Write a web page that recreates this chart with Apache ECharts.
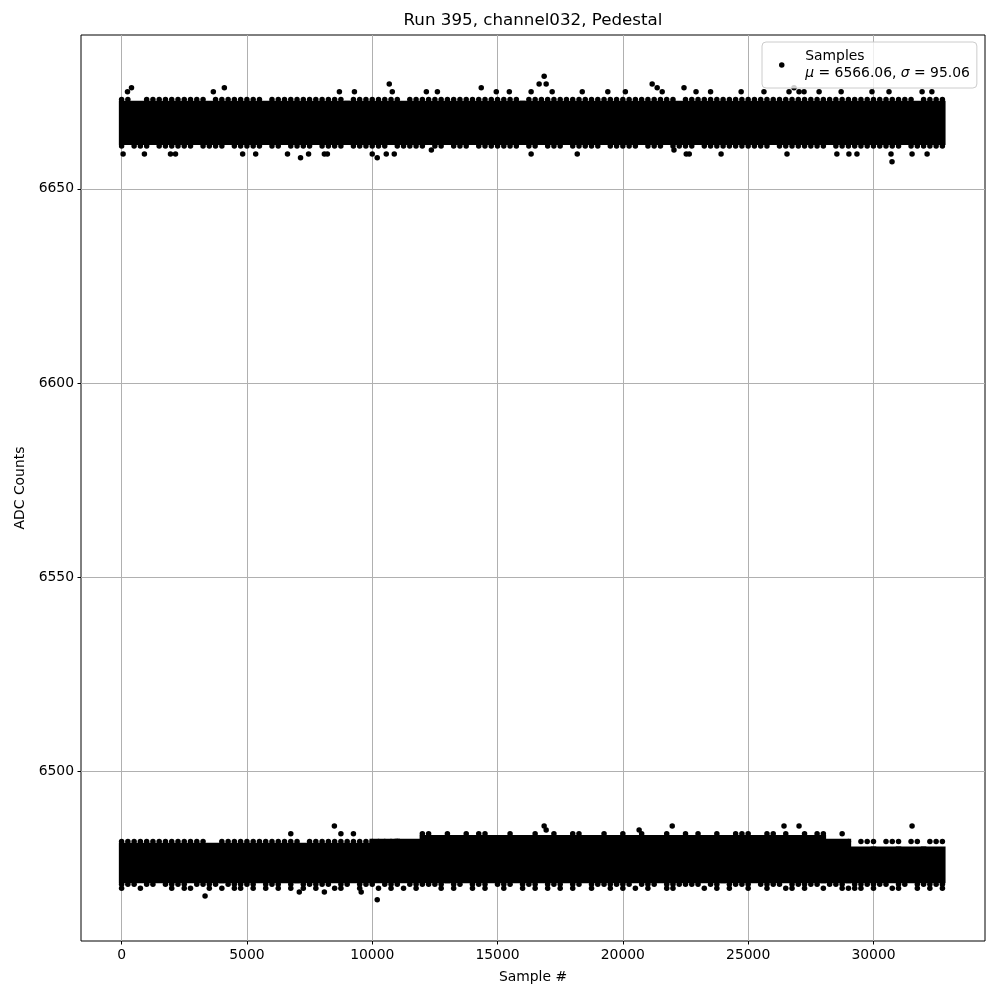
<!DOCTYPE html>
<html>
<head>
<meta charset="utf-8">
<script src="https://cdn.jsdelivr.net/npm/echarts@6/dist/echarts.min.js"></script>
<style>
html,body{margin:0;padding:0;background:#fff}
#chart{width:1000px;height:1000px}
</style>
</head>
<body>
<div id="chart"></div>
<script>
// ---------------- data ----------------
const titleText = 'Run 395, channel032, Pedestal';
const xAxisName = 'Sample #';
const yAxisName = 'ADC Counts';
const legendName = 'Samples';
const legendStats = { mu: '6566.06', sigma: '95.06' };
const xTicks = [0, 5000, 10000, 15000, 20000, 25000, 30000];
const yTicks = [6500, 6550, 6600, 6650];

// dense (solid) part of each band, per 1000-sample chunk
const chunkEdges = [0,1000,2000,3000,4000,5000,6000,7000,8000,9000,10000,11000,12000,13000,14000,15000,16000,
  17000,18000,19000,20000,21000,22000,23000,24000,25000,26000,27000,28000,29000,30000,31000,32000,32767];
const upperCoreLo = [6662,6662,6662,6662,6662,6662,6662,6662,6662,6662,6662,6662,6662,6662,6662,6662,6662,
  6662,6662,6662,6662,6662,6662,6662,6662,6662,6662,6662,6662,6662,6662,6662,6662];
const upperCoreHi = [6672,6672,6672,6672,6672,6672,6672,6672,6672,6672,6672,6672,6672,6672,6672,6672,6672,
  6672,6672,6672,6672,6672,6672,6672,6672,6672,6672,6672,6672,6672,6672,6672,6672];
const lowerCoreLo = [6472,6472,6472,6472,6472,6472,6472,6472,6472,6472,6472,6472,6472,6472,6472,6472,6472,
  6472,6472,6472,6472,6472,6472,6472,6472,6472,6472,6472,6472,6472,6472,6472,6472];
const lowerCoreHi = [6481,6481,6481,6481,6481,6481,6481,6481,6481,6481,6482,6482,6483,6483,6483,6483,6483,
  6483,6483,6483,6483,6483,6483,6483,6483,6483,6483,6483,6482,6480,6480,6480,6480];

// fringe rows: one character per 250 samples, '#' = a sample at that ADC value
const rowStep = 250;
const upperRow6673 = ['##..######','####.#####','###.######','######.###','#####.####','##########','####.#####',
  '##########','#########.','##########','##########','##########','#######.##','##'].join('');
const upperRow6661 = ['#.###.####','##.####.##','###.##.###','#.####.###','###.#####.','##.###.###','####.##.##',
  '#.#####.##','###.###.##','##.#######','####.#####','###.######','#####.####','##'].join('');
const lowerRow6484 = ['..........','..........','.......#..','.....#.#..','........##','..#..#.##.','..#...#..#',
  '..##...#..','#..#...#..','#.#..#..##','#..##.#..#','.##..#....','..........','..'].join('');
const lowerRow6482 = ['##########','####..####','#########.','##########','#####.....','..........','..........',
  '..........','..........','..........','..........','......#.##','#.###.##.#','##'].join('');
const lowerRow6471 = ['###.##.###','#.####.###','##.###.#.#','####.##.##','#.###.####','##.##.###.','###.###.##',
  '#.##.#####','##.###.###','###.##.###','#.####.###','##.###.###','###.##.###','##'].join('');
const lowerRow6470 = ['#..#....#.','##..#.#.##','.#.#.#.#.#','.#..##..#.','.#.#.#.#..','.#.#..#.#.','.#..#.#.#.',
  '#.#..#..#.','#.#.#..##.','...#.#.#..','#..#..##.#','..#..####.','#..##..#.#','.#'].join('');

// isolated samples [sample #, ADC counts]
const upperHigh = [[235,6675],[395,6676],[3660,6675],[4100,6676],[8690,6675],[9290,6675],[10680,6677],[10800,6675],
  [12160,6675],[12600,6675],[14350,6676],[14950,6675],[15470,6675],[16340,6675],[16660,6677],[16940,6677],[16860,6679],
  [17180,6675],[18380,6675],[19400,6675],[20100,6675],[21170,6677],[21370,6676],[21570,6675],[22440,6676],[22920,6675],
  [23500,6675],[24720,6675],[25630,6675],[26630,6675],[26830,6676],[27030,6675],[27230,6675],[27830,6675],[28710,6675],
  [29940,6675],[30620,6675],[31940,6675],[32330,6675]];
const upperLow = [[60,6659],[910,6659],[1950,6659],[2150,6659],[4830,6659],[5350,6659],[6620,6659],[7140,6658],
  [7460,6659],[8090,6659],[8210,6659],[10000,6659],[10200,6658],[10560,6659],[10880,6659],[12360,6660],[16340,6659],
  [18180,6659],[22040,6660],[22530,6659],[22650,6659],[23920,6659],[26550,6659],[28540,6659],[29020,6659],[29340,6659],
  [30700,6659],[30740,6657],[31540,6659],[32140,6659]];
const lowerHigh = [[8490,6486],[16860,6486],[16940,6485],[20650,6485],[21970,6486],[26430,6486],[27030,6486],[31540,6486]];
const lowerLow = [[3330,6468],[7090,6469],[8090,6469],[9560,6469],[10200,6467]];

// ---------------- build series data ----------------
function rowPoints(pattern, value) {
  const pts = [];
  for (let i = 0; i < pattern.length; i++) if (pattern[i] === '#') pts.push([i * rowStep, value]);
  return pts;
}
const coreData = [];
for (let c = 0; c < chunkEdges.length - 1; c++) {
  coreData.push([chunkEdges[c], chunkEdges[c + 1], upperCoreLo[c], upperCoreHi[c]]);
  coreData.push([chunkEdges[c], chunkEdges[c + 1], lowerCoreLo[c], lowerCoreHi[c]]);
}
const sampleData = [].concat(
  rowPoints(upperRow6673, 6673), rowPoints(upperRow6661, 6661),
  rowPoints(lowerRow6484, 6484), rowPoints(lowerRow6482, 6482),
  rowPoints(lowerRow6471, 6471), rowPoints(lowerRow6470, 6470),
  upperHigh, upperLow, lowerHigh, lowerLow
);

const MARK = 5.5;
const FONT = 'DejaVu Sans';
const chart = echarts.init(document.getElementById('chart'), null, { renderer: 'canvas' });
chart.setOption({
  animation: false,
  backgroundColor: '#fff',
  title: {
    text: titleText, left: 533, top: 11, textAlign: 'center', padding: 0,
    textStyle: { fontFamily: FONT, fontSize: 16.7, fontWeight: 'normal', color: '#000', lineHeight: 20 }
  },
  grid: { left: 81, right: 15, top: 35, bottom: 59, show: true, borderColor: '#000', borderWidth: 1,
          backgroundColor: 'transparent', containLabel: false },
  legend: {
    left: 762, top: 42, orient: 'vertical', z: 10,
    data: [{ name: legendName, icon: 'circle', itemStyle: { color: '#000', opacity: 1 } }],
    itemWidth: 37, itemHeight: MARK, padding: [6, 7, 6, 17],
    backgroundColor: 'rgba(255,255,255,0.8)', borderColor: '#cccccc', borderWidth: 1, borderRadius: 4,
    selectedMode: false,
    formatter: () => '{t|' + legendName + '}\n{i|μ}{t| = ' + legendStats.mu + ', }{i|σ}{t| = ' + legendStats.sigma + '}',
    textStyle: {
      lineHeight: 17,
      rich: {
        t: { fontFamily: FONT, fontSize: 13.9, color: '#000', lineHeight: 17 },
        i: { fontFamily: FONT, fontSize: 13.9, color: '#000', lineHeight: 17, fontStyle: 'italic' }
      }
    }
  },
  xAxis: {
    type: 'value', min: -1620, max: 34450,
    name: xAxisName, nameLocation: 'middle', nameGap: 29,
    nameTextStyle: { fontFamily: FONT, fontSize: 13.9, color: '#000' },
    axisLine: { show: false, onZero: false },
    axisTick: { show: true, length: 3.5, lineStyle: { color: '#000', width: 1 }, customValues: xTicks },
    axisLabel: { fontFamily: FONT, fontSize: 13.9, color: '#000', margin: 7, customValues: xTicks,
                 formatter: v => String(v) },
    splitLine: { show: true, lineStyle: { color: '#b0b0b0', width: 1 } }
  },
  yAxis: {
    type: 'value', min: 6456.4, max: 6689.6,
    name: yAxisName, nameLocation: 'middle', nameGap: 49,
    nameTextStyle: { fontFamily: FONT, fontSize: 13.9, color: '#000' },
    axisLine: { show: false, onZero: false },
    axisTick: { show: true, length: 3.5, lineStyle: { color: '#000', width: 1 }, customValues: yTicks },
    axisLabel: { fontFamily: FONT, fontSize: 13.9, color: '#000', margin: 7, customValues: yTicks,
                 formatter: v => String(v) },
    splitLine: { show: true, lineStyle: { color: '#b0b0b0', width: 1 } }
  },
  series: [
    {
      name: legendName, type: 'custom', silent: true, z: 3,
      encode: { x: [0, 1], y: [2, 3] },
      data: coreData,
      renderItem: function (params, api) {
        const p0 = api.coord([api.value(0), api.value(3)]);
        const p1 = api.coord([api.value(1), api.value(2)]);
        const r = MARK / 2;
        return { type: 'rect',
          shape: { x: p0[0] - r, y: p0[1] - r, width: p1[0] - p0[0] + 2 * r, height: p1[1] - p0[1] + 2 * r },
          style: { fill: '#000' } };
      }
    },
    {
      name: legendName, type: 'scatter', silent: true, z: 3,
      symbol: 'circle', symbolSize: MARK, itemStyle: { color: '#000', opacity: 1 },
      data: sampleData
    }
  ]
});
</script>
</body>
</html>
